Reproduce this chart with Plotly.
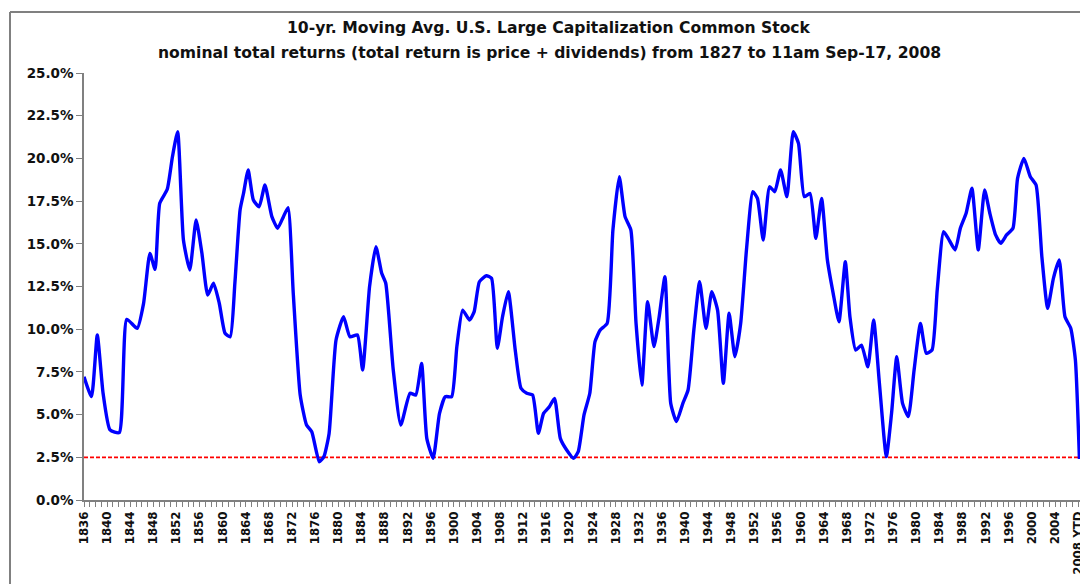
import plotly.graph_objects as go

# Data (year position, 10-yr moving average return in %)
years = [1836.0, 1837.3, 1838.3, 1839.3, 1840.5, 1842.1, 1843.4, 1845.2, 1846.3, 1847.4,
         1848.3, 1849.1, 1850.4, 1851.3, 1852.2, 1853.2, 1854.3, 1855.4, 1856.4, 1857.4,
         1858.4, 1859.4, 1860.4, 1861.3, 1862.1, 1863.0, 1863.6, 1864.4, 1865.3, 1866.3,
         1867.3, 1868.5, 1869.5, 1870.5, 1871.3, 1872.2, 1873.4, 1874.5, 1875.4, 1876.7,
         1877.5, 1878.4, 1879.6, 1880.9, 1882.0, 1883.3, 1884.2, 1885.4, 1886.5, 1887.5,
         1888.2, 1889.5, 1890.8, 1892.4, 1893.4, 1894.4, 1895.3, 1896.4, 1897.5, 1898.5,
         1899.6, 1900.5, 1901.5, 1902.7, 1903.5, 1904.4, 1905.6, 1906.5, 1907.5, 1908.4,
         1909.4, 1910.6, 1911.6, 1912.6, 1913.6, 1914.6, 1915.5, 1916.5, 1917.4, 1918.4,
         1919.5, 1920.7, 1921.5, 1922.5, 1923.5, 1924.4, 1925.3, 1926.5, 1927.5, 1928.6,
         1929.6, 1930.6, 1931.5, 1932.5, 1933.5, 1934.6, 1935.5, 1936.5, 1937.5, 1938.5,
         1939.6, 1940.5, 1941.5, 1942.5, 1943.6, 1944.6, 1945.6, 1946.6, 1947.6, 1948.6,
         1949.6, 1950.6, 1951.7, 1952.5, 1953.5, 1954.6, 1955.5, 1956.5, 1957.6, 1958.7,
         1959.6, 1960.6, 1961.6, 1962.6, 1963.6, 1964.6, 1965.6, 1966.6, 1967.7, 1968.5,
         1969.5, 1970.5, 1971.6, 1972.6, 1973.6, 1974.8, 1975.7, 1976.6, 1977.6, 1978.6,
         1979.6, 1980.7, 1981.7, 1982.7, 1983.6, 1984.7, 1985.5, 1986.7, 1987.6, 1988.6,
         1989.6, 1990.7, 1991.8, 1992.7, 1993.7, 1994.6, 1995.6, 1996.7, 1997.5, 1998.6,
         1999.7, 2000.7, 2001.7, 2002.7, 2003.7, 2004.7, 2005.7, 2006.7, 2007.5, 2008.2]
returns = [7.22, 6.05, 9.66, 6.25, 4.10, 3.94, 10.58, 10.05, 11.5, 14.44,
           13.5, 17.37, 18.19, 20.1, 21.56, 15.22, 13.47, 16.39, 14.44, 12.0,
           12.69, 11.52, 9.76, 9.56, 12.69, 16.98, 17.96, 19.32, 17.56, 17.17,
           18.44, 16.59, 15.91, 16.59, 17.12, 12.1, 6.15, 4.39, 4.0, 2.24,
           2.54, 3.9, 9.37, 10.73, 9.56, 9.66, 7.61, 12.49, 14.83, 13.27,
           12.69, 7.61, 4.39, 6.25, 6.15, 8.0, 3.61, 2.44, 5.07, 6.05,
           6.05, 8.98, 11.12, 10.54, 11.03, 12.78, 13.13, 12.98, 8.88, 10.73,
           12.2, 8.78, 6.54, 6.25, 6.15, 3.9, 5.07, 5.46, 5.95, 3.61,
           2.93, 2.44, 2.83, 4.98, 6.25, 9.27, 9.95, 10.34, 15.81, 18.93,
           16.59, 15.81, 10.34, 6.73, 11.61, 8.98, 10.73, 13.08, 5.66, 4.59,
           5.66, 6.44, 9.95, 12.78, 10.05, 12.2, 11.12, 6.83, 10.93, 8.39,
           10.34, 14.64, 18.05, 17.66, 15.22, 18.34, 18.05, 19.32, 17.76, 21.56,
           20.88, 17.76, 17.95, 15.32, 17.66, 14.05, 12.1, 10.44, 13.95, 10.73,
           8.78, 9.07, 7.8, 10.54, 6.83, 2.54, 5.07, 8.39, 5.66, 4.88,
           7.61, 10.34, 8.59, 8.78, 12.3, 15.71, 15.32, 14.64, 15.91, 16.79,
           18.25, 14.64, 18.15, 16.79, 15.52, 15.03, 15.52, 15.91, 18.83, 20.0,
           18.93, 18.44, 14.25, 11.22, 12.98, 14.05, 10.73, 10.05, 8.2, 2.4]

threshold_years = [1836, 2008.3]
threshold_values = [2.5, 2.5]

label_years = list(range(1836, 2005, 4)) + [2008]
label_texts = [str(y) for y in range(1836, 2005, 4)] + ["2008 YTD"]
y_ticks = [0, 2.5, 5, 7.5, 10, 12.5, 15, 17.5, 20, 22.5, 25]

title_line1 = "10-yr. Moving Avg. U.S. Large Capitalization Common Stock"
title_line2 = "nominal total returns (total return is price + dividends) from 1827 to 11am Sep-17, 2008"

FONT = "DejaVu Sans"
GREY = "#808080"

# plot area in the page spans x 84..1080, y 73..500 (page margin removed below)
fig = go.Figure()
fig.add_trace(go.Scatter(
    x=threshold_years, y=threshold_values, mode="lines",
    line=dict(color="#ff0000", width=1.8, dash="4px,2px"),
    hoverinfo="skip", showlegend=False))
fig.add_trace(go.Scatter(
    x=years, y=returns, mode="lines",
    line=dict(color="#0000ff", width=3.4, shape="spline", smoothing=0.5),
    showlegend=False))

fig.update_layout(
    width=1080, height=584,
    paper_bgcolor="white", plot_bgcolor="white",
    margin=dict(l=84, r=0, t=73, b=84),
    showlegend=False,
    xaxis=dict(
        range=[1836, 2008.3], showgrid=False, zeroline=False,
        showline=True, linecolor=GREY, linewidth=1.5,
        tickmode="array", tickvals=label_years,
        ticktext=["<b>" + t + "</b>" for t in label_texts],
        ticks="outside", ticklen=5, tickcolor=GREY, tickwidth=1,
        tickangle=-90, tickfont=dict(family=FONT, size=11.8, color="#111"),
        ticklabeloverflow="allow",
        minor=dict(dtick=1, tick0=1836, ticks="outside", ticklen=5, tickcolor=GREY, tickwidth=1),
        automargin=False),
    yaxis=dict(
        range=[0, 25], showgrid=False, zeroline=False,
        showline=True, linecolor=GREY, linewidth=1.5,
        tickmode="array", tickvals=y_ticks,
        ticktext=[f"<b>{v:.1f}%</b>" for v in y_ticks],
        ticks="outside", ticklen=6, tickcolor=GREY, tickwidth=1,
        tickfont=dict(family=FONT, size=13.5, color="#111"),
        automargin=False),
    annotations=[
        dict(text="<b>" + title_line1 + "</b>", xref="paper", yref="paper",
             x=(549 - 84) / 996, y=(500 - 28) / 427, xanchor="center", yanchor="middle",
             showarrow=False, font=dict(family=FONT, size=15.6, color="#111")),
        dict(text="<b>" + title_line2 + "</b>", xref="paper", yref="paper",
             x=(549 - 84) / 996, y=(500 - 53) / 427, xanchor="center", yanchor="middle",
             showarrow=False, font=dict(family=FONT, size=15.6, color="#111")),
    ],
    shapes=[
        dict(type="line", xref="paper", yref="paper",
             x0=(10 - 84) / 996, x1=(10 - 84) / 996,
             y0=(500 - 12) / 427, y1=(500 - 600) / 427,
             line=dict(color=GREY, width=2)),
        dict(type="line", xref="paper", yref="paper",
             x0=(10 - 84) / 996, x1=(1100 - 84) / 996,
             y0=(500 - 12) / 427, y1=(500 - 12) / 427,
             line=dict(color=GREY, width=2)),
    ],
)

fig.write_html(
    "out.html",
    config={"displayModeBar": False},
    post_script=("document.body.style.margin='0';"
                 "document.body.style.overflow='hidden';"
                 "document.documentElement.style.overflow='hidden';"),
)
